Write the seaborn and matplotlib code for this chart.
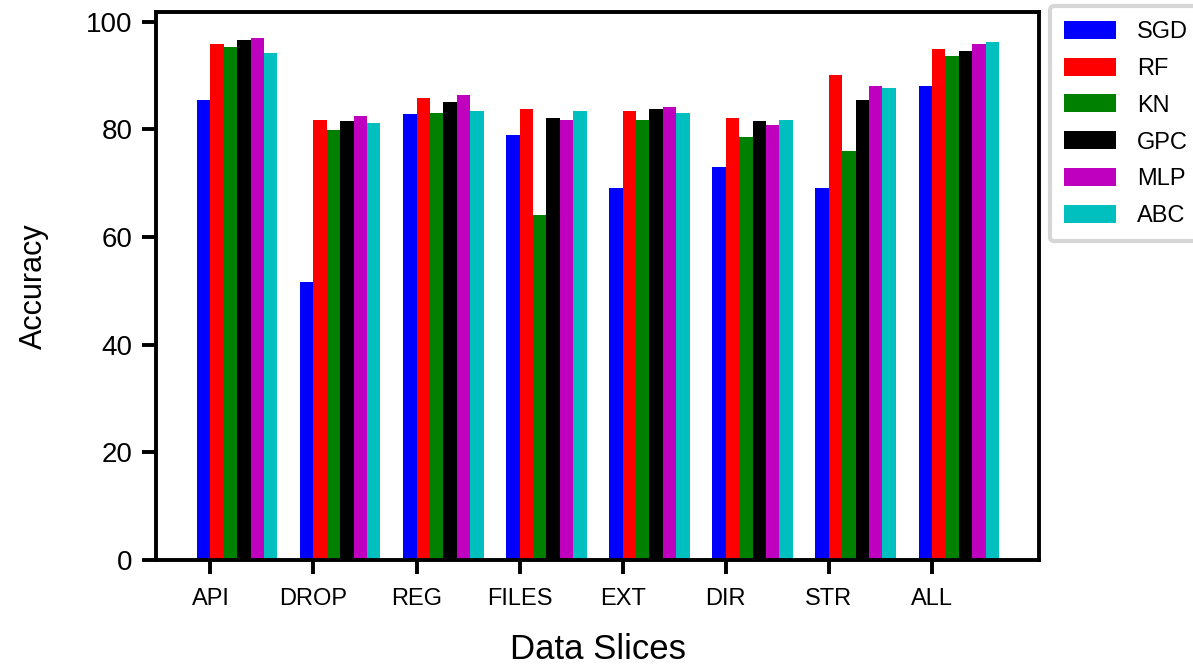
import numpy as np
import matplotlib
matplotlib.use("Agg")
import matplotlib.pyplot as plt
import seaborn as sns

# data
slices = ["API", "DROP", "REG", "FILES", "EXT", "DIR", "STR", "ALL"]
models = ["SGD", "RF", "KN", "GPC", "MLP", "ABC"]

sgd = [85.5, 51.7, 82.9, 79.0, 69.1, 73.0, 69.1, 88.1]
rf = [95.9, 81.8, 85.9, 83.8, 83.5, 82.2, 90.1, 95.0]
kn = [95.3, 79.9, 83.1, 64.1, 81.8, 78.6, 76.0, 93.7]
gpc = [96.6, 81.6, 85.1, 82.2, 83.8, 81.6, 85.5, 94.6]
mlp = [97.0, 82.5, 86.4, 81.8, 84.2, 80.9, 88.1, 95.9]
abc = [94.2, 81.2, 83.5, 83.5, 83.1, 81.8, 87.7, 96.3]

colors = ["b", "r", "g", "k", "m", "c"]

sns.set_style("white")
plt.rcParams["font.family"] = ["Liberation Sans", "DejaVu Sans"]
plt.rcParams["text.color"] = "black"
plt.rcParams["axes.labelcolor"] = "black"
plt.rcParams["xtick.color"] = "black"
plt.rcParams["ytick.color"] = "black"

fig, ax = plt.subplots(figsize=(11.93, 6.64), dpi=100)
fig.subplots_adjust(left=0.131, right=0.871, top=0.982, bottom=0.157)

x = np.arange(len(slices))
width = 0.13
for i, (name, vals) in enumerate(zip(models, [sgd, rf, kn, gpc, mlp, abc])):
    sns.barplot(x=x + (i - 0.5) * width, y=vals, native_scale=True, width=width,
                color=colors[i], saturation=1, errorbar=None, label=name,
                linewidth=0, ax=ax)

ax.set_xlim(-0.525, 8.04)
ax.set_ylim(0, 101.85)
ax.set_xticks(x)
ax.set_xticklabels(slices)
ax.set_yticks([0, 20, 40, 60, 80, 100])

for s in ax.spines.values():
    s.set_linewidth(2.8)
    s.set_color("black")
ax.tick_params(axis="both", direction="out", length=10, width=2.8,
               bottom=True, left=True, colors="black")
ax.tick_params(axis="x", labelsize=17, pad=10)
ax.tick_params(axis="y", labelsize=20, pad=7)

ax.set_xlabel("Data Slices", fontsize=25, labelpad=17)
ax.set_ylabel("Accuracy", fontsize=22, labelpad=27)

leg = ax.legend(loc="upper left", bbox_to_anchor=(1.012, 1.01), fontsize=17,
                frameon=True, fancybox=True, handlelength=2.2, handleheight=0.8,
                labelspacing=0.62, borderpad=0.6, borderaxespad=0, handletextpad=0.9)
leg.get_frame().set_edgecolor("#cccccc")
leg.get_frame().set_linewidth(3)

plt.savefig("out.png", dpi=100)
